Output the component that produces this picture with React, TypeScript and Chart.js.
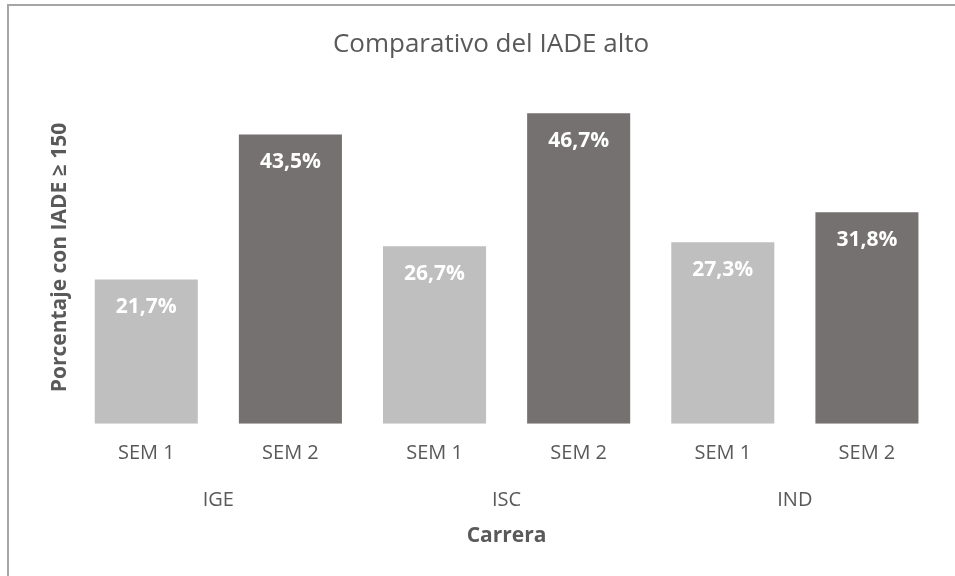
import React, { useEffect, useRef } from "react";
import { Chart, registerables } from "chart.js";

Chart.register(...registerables);

const semesters = ["SEM 1", "SEM 2", "SEM 1", "SEM 2", "SEM 1", "SEM 2"];
const careers = ["IGE", "ISC", "IND"];
const values = [21.7, 43.5, 26.7, 46.7, 27.3, 31.8];
const barColors = ["#bfbfbf", "#767171", "#bfbfbf", "#767171", "#bfbfbf", "#767171"];
const titleText = "Comparativo del IADE alto";
const yTitle = "Porcentaje con IADE ≥ 150";
const xTitle = "Carrera";

const FONT = "'Open Sans', 'Noto Sans', sans-serif";
const TEXT = "#595959";

const valueLabels = {
  id: "valueLabels",
  afterDatasetsDraw(chart: any) {
    const ctx = chart.ctx;
    const meta = chart.getDatasetMeta(0);
    ctx.save();
    ctx.fillStyle = "#ffffff";
    ctx.font = `bold 21px ${FONT}`;
    ctx.textAlign = "center";
    ctx.textBaseline = "middle";
    meta.data.forEach((bar: any, i: number) => {
      const v = chart.data.datasets[0].data[i] as number;
      ctx.fillText(v.toFixed(1).replace(".", ",") + "%", bar.x, bar.y + 28);
    });
    ctx.restore();
  },
};

export default function App() {
  const ref = useRef<HTMLCanvasElement>(null);
  useEffect(() => {
    if (!ref.current) return;
    const chart = new Chart(ref.current, {
      type: "bar",
      data: {
        labels: semesters,
        datasets: [
          {
            data: values,
            backgroundColor: barColors,
            borderWidth: 0,
            barPercentage: 0.715,
            categoryPercentage: 1,
          },
        ],
      },
      options: {
        animation: false,
        responsive: false,
        maintainAspectRatio: false,
        layout: { padding: { left: 43, right: 16, top: 19, bottom: 23 } },
        plugins: {
          legend: { display: false },
          tooltip: { enabled: false },
          title: {
            display: true,
            text: titleText,
            color: TEXT,
            font: { family: FONT, size: 26, weight: "normal" },
            padding: { top: 10, bottom: 31 },
          },
        },
        scales: {
          x: {
            weight: 0,
            grid: { display: false, drawTicks: false },
            border: { display: false },
            ticks: { color: TEXT, font: { family: FONT, size: 20 }, padding: 17 },
          },
          x2: {
            type: "category",
            position: "bottom",
            weight: 1,
            labels: careers,
            offset: true,
            grid: { display: false, drawTicks: false },
            border: { display: false },
            ticks: { color: TEXT, font: { family: FONT, size: 20 }, padding: 6 },
            title: {
              display: true,
              text: xTitle,
              color: TEXT,
              font: { family: FONT, size: 21, weight: "bold" },
              padding: { top: 6, bottom: 4 },
            },
          },
          y: {
            min: 0,
            max: 50,
            grid: { display: false, drawTicks: false },
            border: { display: false },
            ticks: { display: false },
            title: {
              display: true,
              text: yTitle,
              color: TEXT,
              font: { family: FONT, size: 21, weight: "bold" },
              padding: { top: 4, bottom: 2 },
            },
          },
        },
      } as any,
      plugins: [valueLabels],
    });
    return () => chart.destroy();
  }, []);

  return (
    <div style={{ position: "fixed", left: 0, top: 0, width: 955, height: 576, background: "#fff", overflow: "hidden" }}>
      <div
        style={{
          position: "absolute",
          left: 7,
          top: 4,
          width: 1000,
          height: 700,
          borderLeft: "2px solid #a6a6a6",
          borderTop: "2px solid #a6a6a6",
        }}
      />
      <canvas ref={ref} width={955} height={576} style={{ position: "absolute", left: 0, top: 0, width: 955, height: 576 }} />
    </div>
  );
}
